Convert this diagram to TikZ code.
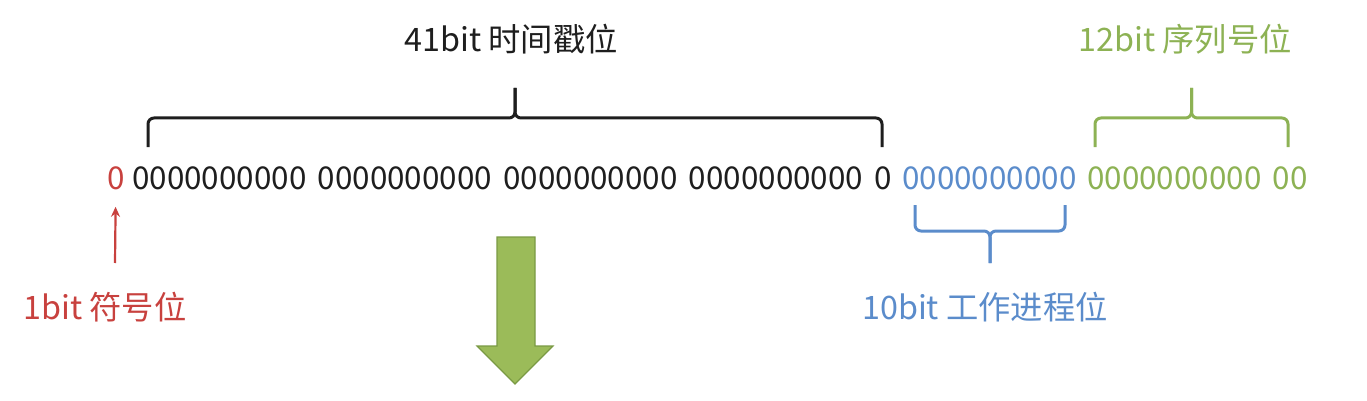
\documentclass[tikz,border=0pt]{standalone}
\usepackage{fontspec}
\setmainfont{Noto Sans CJK SC}
\usetikzlibrary{arrows.meta}

\definecolor{signred}{HTML}{C8413E}
\definecolor{timeblack}{HTML}{1E1E1E}
\definecolor{workblue}{HTML}{5B8CCB}
\definecolor{seqgreen}{HTML}{8DB254}
\definecolor{arrowgreen}{HTML}{9BBB59}
\definecolor{arrowedge}{HTML}{7A9A44}

\begin{document}
\begin{tikzpicture}
		[
			x=1pt, y=-1pt,
			bits/.style={inner sep=0pt, anchor=west, font=\fontsize{31.4}{36}\selectfont},
			lbl/.style={inner sep=0pt, font=\fontsize{32.3}{38}\selectfont},
			bracket/.style={line width=3pt, rounded corners=6pt},
			signarrow/.style={line width=2.2pt, signred, -{Stealth[length=10pt, width=9pt]}},
			bigarrow/.style={fill=arrowgreen, draw=arrowedge, line width=1.2pt},
		]
		\useasboundingbox (0,0) rectangle (1367,401);

		% Bits
		\foreach \colour/\name/\x/\text in
		{
			signred/sign/107/0,
			timeblack/time/132/{0000000000 0000000000 0000000000 0000000000 0},
			workblue/work/902/0000000000,
			seqgreen/seq/1087/{0000000000 00}
		}
			\node[bits, text=\colour] (\name) at (\x,178) {\spaceskip=11.3pt\relax\text};

		% Labels
		\node[lbl, text=timeblack] (timelabel) at (511,39) {41bit 时间戳位};
		\node[lbl, text=seqgreen] (seqlabel) at (1185,39) {12bit 序列号位};
		\node[lbl, text=workblue] (worklabel) at (985,307) {10bit 工作进程位};
		\node[lbl, text=signred] (signlabel) at (105,307) {1bit 符号位};

		% Brackets
		\foreach \colour/\xa/\xb/\ye/\yl/\yt in
		{
			timeblack/148/882/147/118/88,
			seqgreen/1095/1288/147/118/88,
			workblue/915/1065/205/231/263
		}
		{
			\draw[bracket, \colour] (\xa,\ye) -- (\xa,\yl) -- ({(\xa+\xb)/2},\yl) -- ({(\xa+\xb)/2},\yt);
			\draw[bracket, \colour] (\xb,\ye) -- (\xb,\yl) -- ({(\xa+\xb)/2},\yl) -- ({(\xa+\xb)/2},\yt);
		}

		% Sign arrow
		\coordinate (signtail) at (115,263);
		\draw[signarrow, shorten >=17pt] (signtail) -- (sign);

		% Down arrow
		\draw[bigarrow] (497,237) -- (535,237) -- (535,346) -- (553,346) -- (515,384) -- (477,346) -- (497,346) -- cycle;

		\end{tikzpicture}
\end{document}
